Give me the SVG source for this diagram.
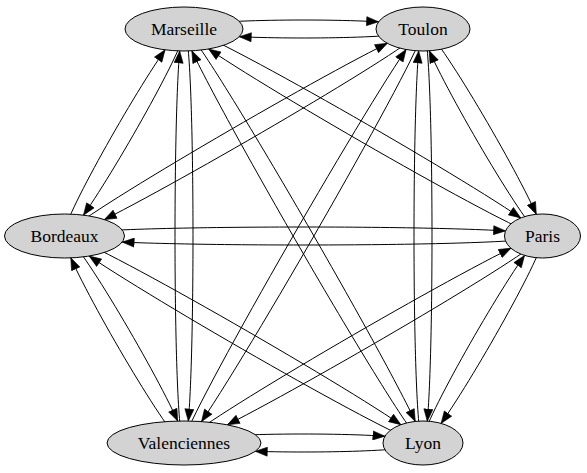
<svg xmlns="http://www.w3.org/2000/svg" width="587" height="473" viewBox="0 0 587 473">
<style>
.edge{fill:none;stroke:#000;stroke-width:1;marker-end:url(#arr)}
.node ellipse{fill:#d3d3d3;stroke:#000;stroke-width:1}
.node text{font-family:"Liberation Serif","Times New Roman",serif;font-size:17.5px;text-anchor:middle;fill:#000}
</style>
<defs>
<marker id="arr" markerUnits="userSpaceOnUse" markerWidth="13" markerHeight="10" refX="12.5" refY="5" orient="auto">
<path d="M0.5,0.5 L12.5,5 L0.5,9.5 Z" fill="#000" stroke="#000" stroke-width="0.6"/>
</marker>
</defs>
<rect width="587" height="473" fill="#fff"/>
<g id="edges">
<path id="e-T-M" class="edge" d="M423,29 C423,37.26 309.7,39.84 239.25,36.72"/>
<path id="e-P-M" class="edge" d="M542.5,236 C537.5,244.66 287.97,102.5 208.62,49"/>
<path id="e-L-M" class="edge" d="M423,443 C413.98,448.21 232.64,136.9 191.83,50.8"/>
<path id="e-V-M" class="edge" d="M184,443 C173.68,443 172.23,136.5 179.68,50.94"/>
<path id="e-B-M" class="edge" d="M64.5,236 C56.3,231.27 128.97,101.36 165.05,49.83"/>
<path id="e-M-T" class="edge" d="M184,29 C184,20.3 309.5,17.91 378.57,21.82"/>
<path id="e-P-T" class="edge" d="M542.5,236 C534.05,240.88 453.44,104.92 429.27,50.8"/>
<path id="e-L-T" class="edge" d="M423,443 C412.67,443 411.23,136.3 418.68,50.91"/>
<path id="e-V-T" class="edge" d="M184,443 C175.08,437.85 349.77,132.37 406.08,49.52"/>
<path id="e-B-T" class="edge" d="M64.5,236 C59.62,227.55 295.81,89.07 387.29,43.3"/>
<path id="e-M-P" class="edge" d="M184,29 C189.06,20.24 444.15,165.72 520.79,217.94"/>
<path id="e-T-P" class="edge" d="M423,29 C431.45,24.12 512.13,160.21 536.27,214.3"/>
<path id="e-L-P" class="edge" d="M423,443 C414.73,438.22 488.79,306.05 524.55,255.4"/>
<path id="e-V-P" class="edge" d="M184,443 C179.05,434.42 422.48,291.88 510.92,248.24"/>
<path id="e-B-P" class="edge" d="M64.5,236 C64.5,226.05 393.4,224.35 505.53,230.91"/>
<path id="e-M-L" class="edge" d="M184,29 C193.03,23.79 374.61,335.55 415.27,421.41"/>
<path id="e-T-L" class="edge" d="M423,29 C433.33,29 434.77,335.8 427.31,421.13"/>
<path id="e-P-L" class="edge" d="M542.5,236 C550.76,240.77 476.91,372.6 441.09,423.38"/>
<path id="e-V-L" class="edge" d="M184,443 C184,434.03 317.6,431.76 384.95,436.21"/>
<path id="e-B-L" class="edge" d="M64.5,236 C69.55,227.26 323.95,372.27 400.88,424.67"/>
<path id="e-M-V" class="edge" d="M184,29 C194.32,29 195.77,335.5 188.32,421.03"/>
<path id="e-T-V" class="edge" d="M423,29 C431.89,34.13 258.48,337.46 201.52,421.57"/>
<path id="e-P-V" class="edge" d="M542.5,236 C547.25,244.23 323.24,375.84 227.35,424.82"/>
<path id="e-L-V" class="edge" d="M423,443 C423,450.66 325.7,453.43 255.29,451.31"/>
<path id="e-B-V" class="edge" d="M64.5,236 C72.95,231.12 153.48,366.95 177.67,421.08"/>
<path id="e-M-B" class="edge" d="M184,29 C192.2,33.73 119.53,163.6 83.47,215.13"/>
<path id="e-T-B" class="edge" d="M423,29 C427.81,37.33 198.37,171.98 104.41,219.57"/>
<path id="e-P-B" class="edge" d="M542.5,236 C542.5,245.4 249.1,247.44 122.14,242.11"/>
<path id="e-L-B" class="edge" d="M423,443 C418.01,451.64 169.27,309.95 89.18,256.05"/>
<path id="e-V-B" class="edge" d="M184,443 C175.55,447.88 94.94,311.92 70.81,257.87"/>
</g>
<g id="node-marseille" class="node"><ellipse cx="184" cy="29" rx="59" ry="22"/><text x="184" y="35">Marseille</text></g>
<g id="node-toulon" class="node"><ellipse cx="423" cy="29" rx="47" ry="22"/><text x="423" y="35">Toulon</text></g>
<g id="node-paris" class="node"><ellipse cx="542.5" cy="236" rx="38" ry="22"/><text x="542.5" y="242">Paris</text></g>
<g id="node-lyon" class="node"><ellipse cx="423" cy="443" rx="40" ry="22"/><text x="423" y="449">Lyon</text></g>
<g id="node-valenciennes" class="node"><ellipse cx="184" cy="443" rx="77" ry="22"/><text x="184" y="449">Valenciennes</text></g>
<g id="node-bordeaux" class="node"><ellipse cx="64.5" cy="236" rx="60" ry="22"/><text x="64.5" y="242">Bordeaux</text></g>
</svg>
